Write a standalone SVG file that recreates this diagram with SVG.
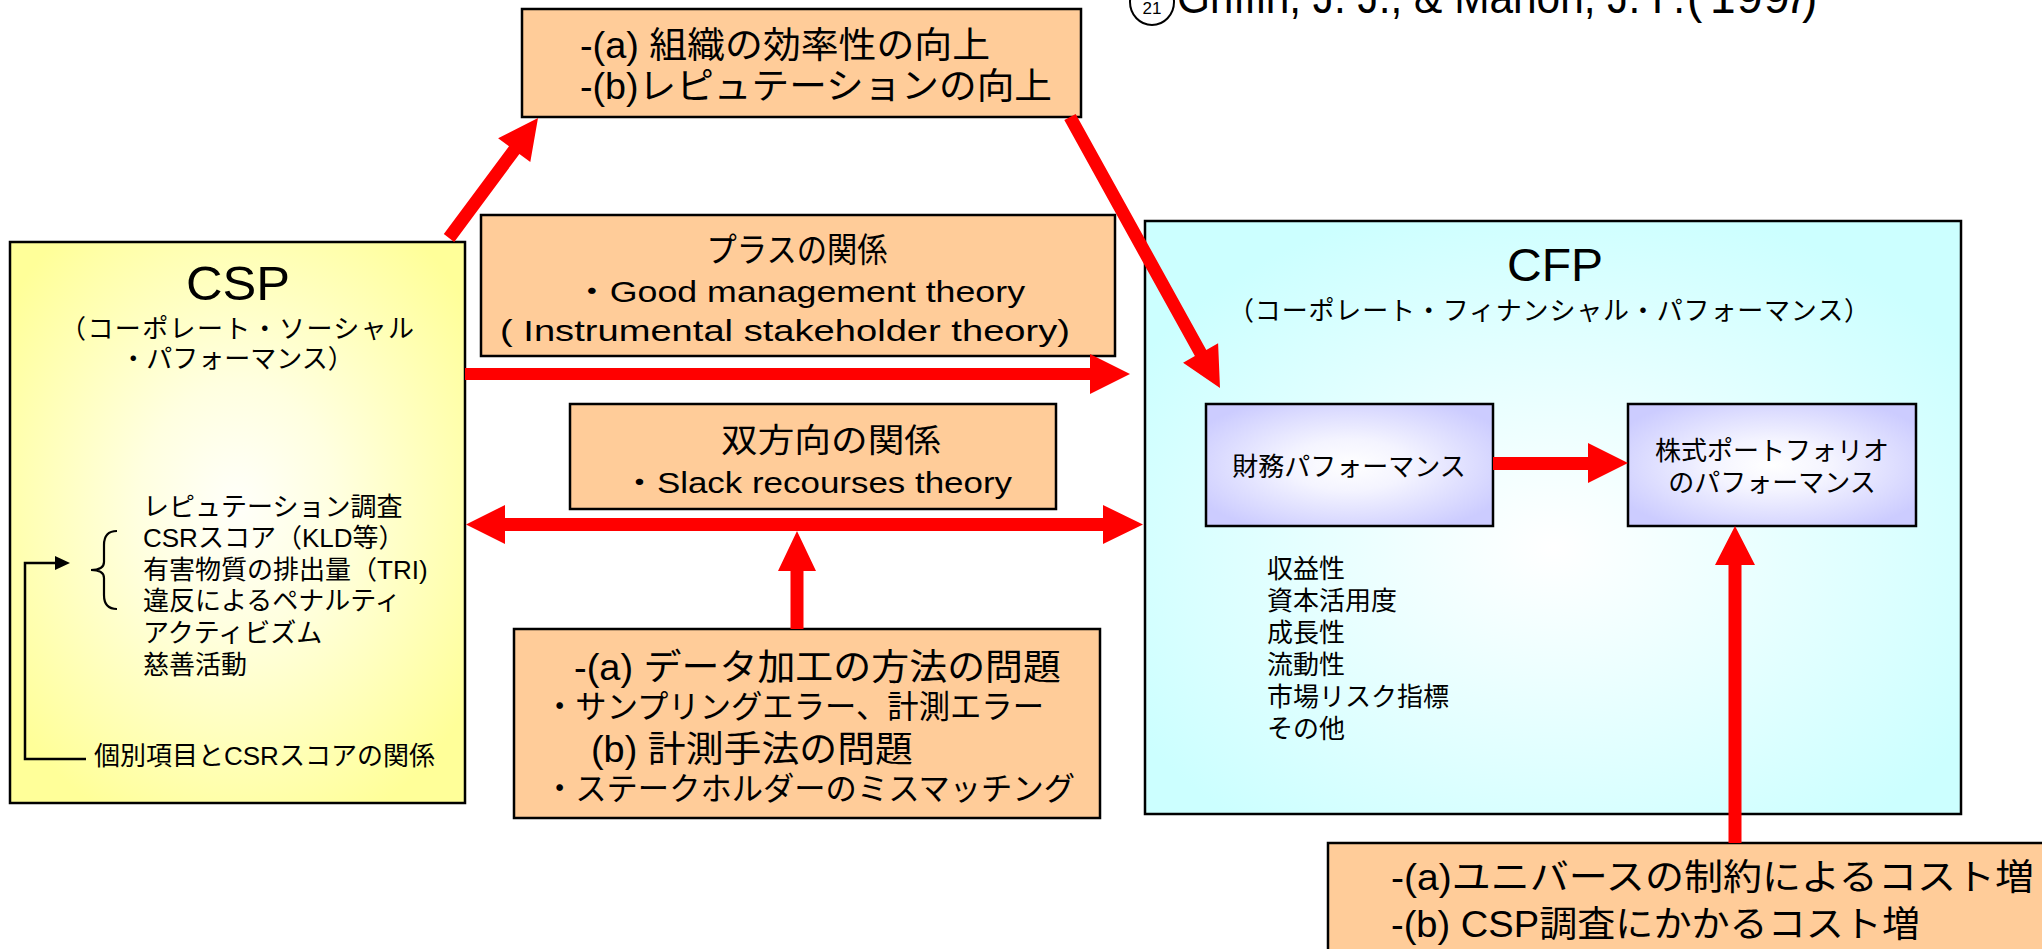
<svg xmlns="http://www.w3.org/2000/svg" width="2042" height="949" viewBox="0 0 2042 949">
<defs>
<radialGradient id="gCsp" cx="0.5" cy="0.47" r="0.62">
<stop offset="0" stop-color="#FFFFFA"/>
<stop offset="0.35" stop-color="#FFFFE0"/>
<stop offset="1" stop-color="#FFFF99"/>
</radialGradient>
<radialGradient id="gCfp" cx="0.5" cy="0.55" r="0.6">
<stop offset="0" stop-color="#FFFFFF"/>
<stop offset="0.3" stop-color="#F0FFFF"/>
<stop offset="1" stop-color="#CCFFFF"/>
</radialGradient>
<radialGradient id="gIn" cx="0.5" cy="0.5" r="0.6">
<stop offset="0" stop-color="#FFFFFF"/>
<stop offset="0.35" stop-color="#F4F4FF"/>
<stop offset="1" stop-color="#CCCCFF"/>
</radialGradient>
</defs>
<style>
.box{stroke:#000;stroke-width:2.5}
.peach{fill:#FFCC99;stroke:#000;stroke-width:2.5}
.t{font-family:"Liberation Sans","Noto Sans CJK JP",sans-serif;fill:#000}
.j{font-family:"Noto Sans CJK JP","Liberation Sans",sans-serif;fill:#000}
.red{fill:#FF0000}
</style>
<rect width="2042" height="949" fill="#FFFFFF"/>

<g id="citation">
<ellipse cx="1152" cy="2" rx="22" ry="23" fill="none" stroke="#000" stroke-width="2"/>
<text class="t" x="1152" y="14" font-size="17" text-anchor="middle">21</text>
<text class="t" y="13" font-size="46"><tspan x="1177" textLength="508" lengthAdjust="spacingAndGlyphs">Griffin, J. J., &amp; Mahon, J. F.</tspan><tspan x="1687 1710 1737 1764 1784 1802">(1997)</tspan></text>
</g>

<g id="csp">
<rect class="box" x="10" y="242" width="455" height="561" fill="url(#gCsp)"/>
<text class="t" x="238" y="300" font-size="48" text-anchor="middle" textLength="104" lengthAdjust="spacingAndGlyphs">CSP</text>
<text class="j" x="60" y="338" font-size="26" textLength="354" lengthAdjust="spacing">（コーポレート・ソーシャル</text>
<text class="j" x="237" y="368" font-size="26" text-anchor="middle">・パフォーマンス）</text>
<g class="t" font-size="26">
<text x="143" y="516">レピュテーション調査</text>
<text x="143" y="547">CSRスコア（KLD等）</text>
<text x="143" y="579">有害物質の排出量（TRI)</text>
<text x="143" y="610">違反によるペナルティ</text>
<text x="143" y="642">アクティビズム</text>
<text x="143" y="674">慈善活動</text>
<text x="94" y="765">個別項目とCSRスコアの関係</text>
</g>
<path d="M117,531 Q104,531 104,545 L104,562 Q104,570 91,570 Q104,570 104,578 L104,595 Q104,609 117,609" fill="none" stroke="#000" stroke-width="2.2"/>
<path d="M86,759 H25 V563 H58" fill="none" stroke="#000" stroke-width="2.5"/>
<polygon points="70,563 55,556 55,570" fill="#000"/>
</g>

<g id="cfp">
<rect class="box" x="1145" y="221" width="816" height="593" fill="url(#gCfp)"/>
<text class="t" x="1555" y="281" font-size="46" text-anchor="middle" textLength="96" lengthAdjust="spacingAndGlyphs">CFP</text>
<text class="j" x="1228" y="320" font-size="26" textLength="642" lengthAdjust="spacing">（コーポレート・フィナンシャル・パフォーマンス）</text>
<g class="j" font-size="26">
<text x="1267" y="578">収益性</text>
<text x="1267" y="610">資本活用度</text>
<text x="1267" y="642">成長性</text>
<text x="1267" y="674">流動性</text>
<text x="1267" y="706">市場リスク指標</text>
<text x="1267" y="738">その他</text>
</g>
</g>

<g id="zaimu">
<rect class="box" x="1206" y="404" width="287" height="122" fill="url(#gIn)"/>
<text class="j" x="1349" y="476" font-size="26" text-anchor="middle">財務パフォーマンス</text>
</g>

<g id="kabushiki">
<rect class="box" x="1628" y="404" width="288" height="122" fill="url(#gIn)"/>
<text class="j" x="1772" y="460" font-size="26" text-anchor="middle">株式ポートフォリオ</text>
<text class="j" x="1772" y="492" font-size="26" text-anchor="middle">のパフォーマンス</text>
</g>

<g id="effect">
<rect class="peach" x="522" y="9" width="559" height="108"/>
<text class="t" x="580" y="58" font-size="36" textLength="410" lengthAdjust="spacingAndGlyphs">-(a) 組織の効率性の向上</text>
<text class="t" x="580" y="99" font-size="36" textLength="472" lengthAdjust="spacingAndGlyphs">-(b)レピュテーションの向上</text>
</g>

<g id="plus">
<rect class="peach" x="481" y="215" width="634" height="141"/>
<text class="j" x="797" y="262" font-size="34" text-anchor="middle" textLength="181" lengthAdjust="spacingAndGlyphs">プラスの関係</text>
<text class="t" x="574" y="302" font-size="30" textLength="451" lengthAdjust="spacingAndGlyphs">・Good management theory</text>
<text class="t" x="500" y="341" font-size="30" textLength="570" lengthAdjust="spacingAndGlyphs">( Instrumental stakeholder theory)</text>
</g>

<g id="bidir">
<rect class="peach" x="570" y="404" width="486" height="105"/>
<text class="j" x="831" y="452" font-size="33" text-anchor="middle" textLength="220" lengthAdjust="spacingAndGlyphs">双方向の関係</text>
<text class="t" x="622" y="493" font-size="29" textLength="390" lengthAdjust="spacingAndGlyphs">・Slack recourses theory</text>
</g>

<g id="problems">
<rect class="peach" x="514" y="629" width="586" height="189"/>
<text class="t" x="574" y="680" font-size="36" textLength="487" lengthAdjust="spacingAndGlyphs">-(a) データ加工の方法の問題</text>
<text class="t" x="544" y="718" font-size="32" textLength="500" lengthAdjust="spacingAndGlyphs">・サンプリングエラー、計測エラー</text>
<text class="t" x="591" y="762" font-size="36" textLength="322" lengthAdjust="spacingAndGlyphs">(b) 計測手法の問題</text>
<text class="t" x="544" y="800" font-size="32" textLength="531" lengthAdjust="spacingAndGlyphs">・ステークホルダーのミスマッチング</text>
</g>

<g id="cost">
<rect class="peach" x="1328" y="843" width="740" height="130"/>
<text class="t" x="1391" y="890" font-size="36" textLength="643" lengthAdjust="spacingAndGlyphs">-(a)ユニバースの制約によるコスト増</text>
<text class="t" x="1391" y="937" font-size="36" textLength="529" lengthAdjust="spacingAndGlyphs">-(b) CSP調査にかかるコスト増</text>
</g>

<g id="connectors" class="red">
<polygon points="454.2,241.9 519.4,154.0 530.3,162.0 538,118 498.1,138.2 509.0,146.2 443.8,234.1"/>
<polygon points="1064.3,120.1 1194.9,356.1 1183.1,362.7 1220,388 1218.1,343.3 1206.3,349.9 1075.7,113.9"/>
<polygon points="465,368 1090,368 1090,354 1130,374 1090,394 1090,380 465,380"/>
<polygon points="466,524.5 505,505 505,518 1103,518 1103,505 1143,524.5 1103,544 1103,531 505,531 505,544"/>
<polygon points="790.5,629 790.5,571 778,571 797,531 816,571 803.5,571 803.5,629"/>
<polygon points="1493,457 1588,457 1588,443 1628,463 1588,483 1588,470 1493,470"/>
<polygon points="1728.5,843 1728.5,565 1715,565 1735,526 1755,565 1741.5,565 1741.5,843"/>
</g>
</svg>
